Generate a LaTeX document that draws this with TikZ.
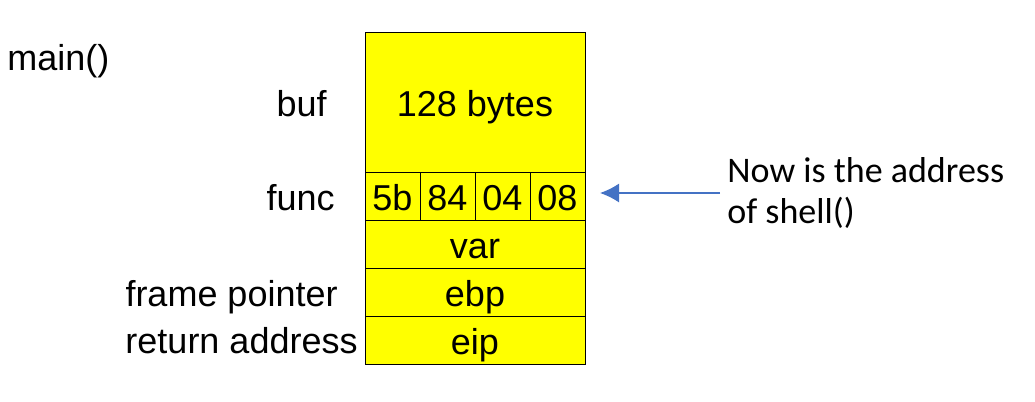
\documentclass[tikz,border=0pt]{standalone}
\usepackage{fontspec}
\setmainfont{Liberation Sans}
\newfontfamily\notefont{Carlito}
\usetikzlibrary{positioning,arrows.meta}
\definecolor{stackyellow}{HTML}{FFFF00}
\definecolor{arrowblue}{HTML}{4472C4}
\tikzset{
    cell/.style={draw, fill=stackyellow, line width=.5pt, inner sep=0pt, outer sep=0pt,
        text height=14pt, text depth=0pt},
    bytecell/.style={cell, minimum width=27.5pt, minimum height=24pt},
    slot/.style={cell, minimum width=110pt, minimum height=24pt},
    lbl/.style={inner sep=0pt, anchor=base east}
}
\begin{document}
\begin{tikzpicture}[x=.5pt, y=-.5pt, font=\fontsize{18}{21.6}\selectfont]
    \useasboundingbox (0,0) rectangle (1035,402);
    % the stack
    \node [cell, minimum width=110pt, minimum height=70pt] (buf) at (475,102){128 bytes};
    \node [bytecell, anchor=north west] (b1) at (buf.south west){5b};
    \node [bytecell, right=0pt of b1] (b2){84};
    \node [bytecell, right=0pt of b2] (b3){04};
    \node [bytecell, right=0pt of b3] (b4){08};
    \node [slot, anchor=north west] (var) at (b1.south west){var};
    \node [slot, below=0pt of var] (ebp){ebp};
    \node [slot, below=0pt of ebp] (eip){eip};
    % labels
    \node [inner sep=0pt, anchor=base west] (main) at (7,70.7){main()};
    \node [lbl] (buflbl) at (327,116.7){buf};
    \node [lbl] (funclbl) at (335,210){func};
    \node [lbl] (fplbl) at (338,306.7){frame pointer};
    \node [lbl] (ralbl) at (358,353){return address};
    % note
    \node [inner sep=0pt, anchor=base west, align=left, font=\notefont\fontsize{18}{20.5}\selectfont]
        (note) at (727,223){Now is the address\\of shell()};
    \coordinate (tail) at (720,193);
    \draw [arrowblue, line width=.75pt, -{Latex[length=9.5pt,width=9.5pt]}]
        (tail) -- ([xshift=7.5pt]tail -| b4.east);
\end{tikzpicture}
\end{document}
